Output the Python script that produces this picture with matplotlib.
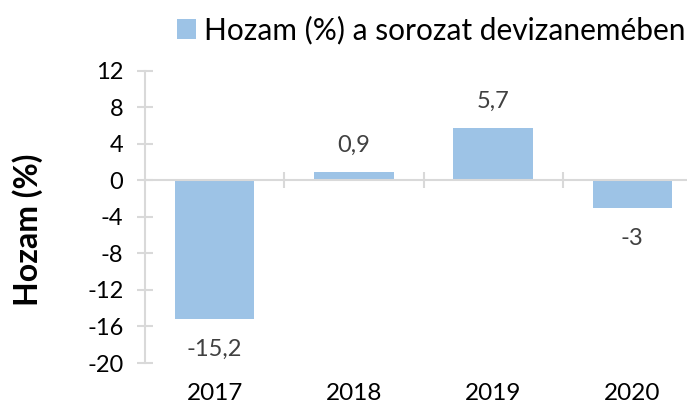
import matplotlib
matplotlib.use("Agg")
import matplotlib.pyplot as plt
import matplotlib.transforms as mtransforms
from matplotlib.patches import Patch

categories = ["2017", "2018", "2019", "2020"]
values = [-15.2, 0.9, 5.7, -3.0]
value_labels = ["-15,2", "0,9", "5,7", "-3"]
yticks = [-20, -16, -12, -8, -4, 0, 4, 8, 12]
series_name = "Hozam (%) a sorozat devizanemében"
ylabel = "Hozam (%)"

plt.rcParams['font.family'] = ['Lato', 'DejaVu Sans']

W, H = 687, 407
fig = plt.figure(figsize=(W / 100, H / 100), dpi=100)
left, right, top, bottom = 145, 702, 70.7, 363
ax = fig.add_axes([left / W, 1 - bottom / H, (right - left) / W, (bottom - top) / H])

bar_color = "#9DC3E6"
axis_color = "#D9D9D9"
x = list(range(len(categories)))
bars = ax.bar(x, values, width=0.57, color=bar_color, zorder=2)

ax.set_xlim(-0.5, len(categories) - 0.5)
ax.set_ylim(-20, 12)
ax.set_yticks(yticks)
ax.set_yticklabels([str(t) for t in yticks])

for s in ["top", "right"]:
    ax.spines[s].set_visible(False)
ax.spines["left"].set_color(axis_color)
ax.spines["left"].set_linewidth(1.5)
ax.spines["bottom"].set_position(("data", 0))
ax.spines["bottom"].set_color(axis_color)
ax.spines["bottom"].set_linewidth(1.5)

ax.tick_params(axis="y", direction="inout", length=11, width=1.5, color=axis_color,
               labelsize=17, labelcolor="#000000", pad=10)
ax.set_xticks([i + 0.5 for i in x[:-1]])
ax.tick_params(axis="x", direction="inout", length=11, width=1.5, color=axis_color,
               labelbottom=False)

trans = mtransforms.blended_transform_factory(ax.transData, ax.transAxes)
for i, c in zip(x, categories):
    ax.text(i, -0.105, c, transform=trans, ha="center", va="center", fontsize=17.5, color="#000000")

for b, v, lab in zip(bars, values, value_labels):
    off = 19.5 if v >= 0 else -22
    ax.annotate(lab, xy=(b.get_x() + b.get_width() / 2, v), xytext=(0, off),
                textcoords="offset points", ha="center", va="center",
                fontsize=17, color="#404040")

fig.text(28 / W, 1 - 230 / H, ylabel, rotation=90, ha="center", va="center",
         fontsize=23, fontweight="bold", color="#000000")

handle = Patch(facecolor=bar_color, edgecolor="none")
leg = fig.legend([handle], [series_name], loc="center", bbox_to_anchor=(431 / W, 1 - 30 / H),
                 frameon=False, fontsize=21.5, handlelength=0.65, handleheight=0.65,
                 handletextpad=0.25, borderaxespad=0)

fig.savefig("out.png", dpi=100)
